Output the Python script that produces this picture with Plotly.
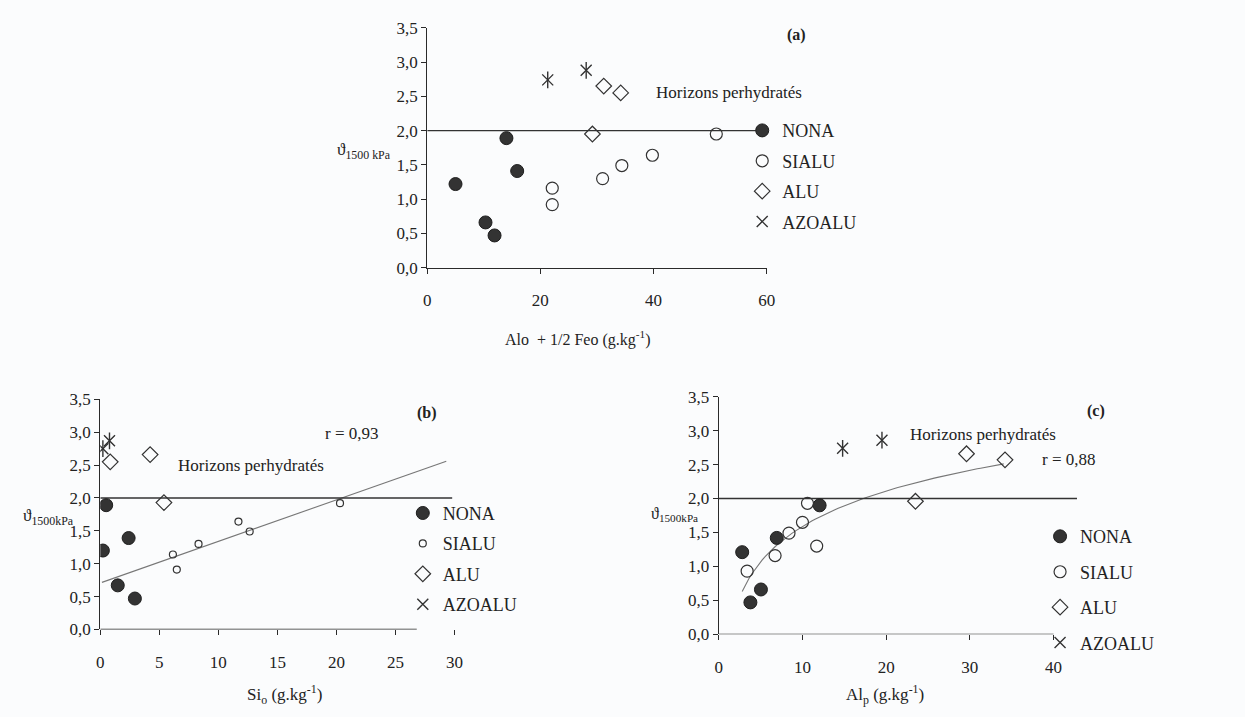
import numpy as np
import plotly.graph_objects as go

W, H = 1245, 717
FONT = "Liberation Serif, Times New Roman, serif"
INK = "#2a2a2a"

# ---------------- data ----------------
# panel (a): Alo + 1/2 Feo
a_nona_x = [5.0, 10.3, 11.9, 14.0, 15.9]
a_nona_y = [1.22, 0.66, 0.47, 1.89, 1.41]
a_sialu_x = [22.1, 22.1, 31.0, 34.4, 39.8, 51.1]
a_sialu_y = [1.16, 0.92, 1.30, 1.49, 1.64, 1.95]
a_alu_x = [29.2, 31.2, 34.2]
a_alu_y = [1.95, 2.65, 2.55]
a_azo_x = [21.3, 28.1]
a_azo_y = [2.74, 2.88]
a_limit_x = [0, 58.1]

# panel (b): Si_o
b_nona_x = [0.22, 0.5, 1.48, 2.4, 2.93]
b_nona_y = [1.20, 1.89, 0.67, 1.39, 0.47]
b_sialu_x = [6.15, 6.48, 8.32, 11.7, 12.65, 20.3]
b_sialu_y = [1.14, 0.91, 1.30, 1.64, 1.49, 1.92]
b_alu_x = [0.84, 4.22, 5.39]
b_alu_y = [2.55, 2.66, 1.93]
b_azo_x = [0.22, 0.78]
b_azo_y = [2.75, 2.87]
b_limit_x = [0, 29.8]
b_fit_x = [0.14, 29.3]
b_fit_slope, b_fit_intercept = 0.0632, 0.707

# panel (c): Al_p
c_nona_x = [2.8, 3.78, 5.04, 6.93, 12.05]
c_nona_y = [1.21, 0.47, 0.66, 1.42, 1.90]
c_sialu_x = [3.39, 6.73, 8.39, 10.0, 10.6, 11.7]
c_sialu_y = [0.93, 1.16, 1.49, 1.65, 1.93, 1.30]
c_alu_x = [23.5, 29.6, 34.2]
c_alu_y = [1.96, 2.66, 2.57]
c_azo_x = [14.8, 19.5]
c_azo_y = [2.74, 2.86]
c_limit_x = [0, 42.8]
c_fit_range = [2.8, 34.05]
c_fit_a, c_fit_b = -0.145, 0.753

y_ticks = [0, 0.5, 1.0, 1.5, 2.0, 2.5, 3.0, 3.5]
y_ticklabels = ["0,0", "0,5", "1,0", "1,5", "2,0", "2,5", "3,0", "3,5"]
labels = ["NONA", "SIALU", "ALU", "AZOALU"]

fig = go.Figure()


def hidden_line(xa, ya, leg, xs, ys, color, width):
    fig.add_trace(go.Scatter(x=xs, y=ys, mode="lines", showlegend=False,
                             xaxis=xa, yaxis=ya, hoverinfo="skip",
                             legend=leg, legendgroup=leg + "z",
                             line=dict(color=color, width=width)))


def add_panel(xa, ya, leg, nona, sialu, alu, azo, sialu_size, circ_size):
    fig.add_trace(go.Scatter(x=nona[0], y=nona[1], mode="markers", name=labels[0],
                             xaxis=xa, yaxis=ya, legend=leg, legendgroup=leg + "n",
                             marker=dict(symbol="circle", size=circ_size, color="#333333",
                                         line=dict(color="#1e1e1e", width=1))))
    fig.add_trace(go.Scatter(x=sialu[0], y=sialu[1], mode="markers", name=labels[1],
                             xaxis=xa, yaxis=ya, legend=leg, legendgroup=leg + "s",
                             marker=dict(symbol="circle-open", size=sialu_size, color="#333333",
                                         line=dict(color="#333333", width=1.2))))
    fig.add_trace(go.Scatter(x=alu[0], y=alu[1], mode="markers", name=labels[2],
                             xaxis=xa, yaxis=ya, legend=leg, legendgroup=leg + "a",
                             marker=dict(symbol="diamond-open", size=12, color="#333333",
                                         line=dict(color="#333333", width=1.2))))
    fig.add_trace(go.Scatter(x=azo[0], y=azo[1], mode="markers", name=labels[3],
                             xaxis=xa, yaxis=ya, legend=leg, legendgroup=leg + "z",
                             marker=dict(symbol="x-thin-open", size=11, color="#333333",
                                         line=dict(color="#333333", width=1.4))))
    fig.add_trace(go.Scatter(x=azo[0], y=azo[1], mode="markers", showlegend=False,
                             xaxis=xa, yaxis=ya, hoverinfo="skip",
                             legend=leg, legendgroup=leg + "z",
                             marker=dict(symbol="line-ns-open", size=12, color="#333333",
                                         line=dict(color="#333333", width=1.4))))


# fits first (drawn beneath markers)
bx = np.array(b_fit_x)
hidden_line("x2", "y2", "legend2", bx, b_fit_intercept + b_fit_slope * bx, "#777777", 1.1)
cx = np.linspace(c_fit_range[0], c_fit_range[1], 80)
hidden_line("x3", "y3", "legend3", cx, c_fit_a + c_fit_b * np.log(cx), "#777777", 1.1)

hidden_line("x", "y", "legend", a_limit_x, [2.0, 2.0], "#333333", 1.4)
hidden_line("x2", "y2", "legend2", b_limit_x, [2.0, 2.0], "#333333", 1.4)
hidden_line("x3", "y3", "legend3", c_limit_x, [2.0, 2.0], "#333333", 1.4)

add_panel("x", "y", "legend", (a_nona_x, a_nona_y), (a_sialu_x, a_sialu_y),
          (a_alu_x, a_alu_y), (a_azo_x, a_azo_y), 12, 13)
add_panel("x2", "y2", "legend2", (b_nona_x, b_nona_y), (b_sialu_x, b_sialu_y),
          (b_alu_x, b_alu_y), (b_azo_x, b_azo_y), 7, 13)
add_panel("x3", "y3", "legend3", (c_nona_x, c_nona_y), (c_sialu_x, c_sialu_y),
          (c_alu_x, c_alu_y), (c_azo_x, c_azo_y), 12, 13)


def px_x(p):
    return p / W


def px_y(p):
    return 1 - p / H


axis_common = dict(showgrid=False, zeroline=False, ticks="outside", ticklen=5,
                   tickcolor=INK, linecolor=INK, linewidth=1.2,
                   tickfont=dict(family=FONT, size=17, color="#222222"))

yaxis_common = dict(axis_common, range=[0, 3.5], tickvals=y_ticks, ticktext=y_ticklabels,
                    showline=True)

fig.update_layout(
    width=W, height=H, margin=dict(l=0, r=0, t=0, b=0),
    paper_bgcolor="#fbfcfd", plot_bgcolor="rgba(0,0,0,0)",
    font=dict(family=FONT, size=17, color="#222222"),
    xaxis=dict(axis_common, domain=[px_x(427.7), px_x(770.7)], range=[0, 60],
               tickvals=[0, 20, 40, 60], showline=True, anchor="y", ticklabelstandoff=12),
    yaxis=dict(yaxis_common, domain=[px_y(265.7), px_y(19.3)], anchor="x"),
    xaxis2=dict(axis_common, domain=[px_x(97.3), px_x(455.3)], range=[0, 30],
                tickvals=[0, 5, 10, 15, 20, 25, 30], showline=False, anchor="y2",
                ticklabelstandoff=12),
    yaxis2=dict(yaxis_common, domain=[px_y(637.3), px_y(401)], anchor="x2"),
    xaxis3=dict(axis_common, domain=[px_x(722.3), px_x(1086.0)], range=[0, 43],
                tickvals=[0, 10, 20, 30, 40], showline=False, anchor="y3",
                ticklabelstandoff=12),
    yaxis3=dict(yaxis_common, domain=[px_y(642.3), px_y(398.3)], anchor="x3"),
    showlegend=True,
)

leg_common = dict(font=dict(family=FONT, size=18, color="#222222"), bgcolor="rgba(0,0,0,0)",
                  xanchor="left", yanchor="top", itemwidth=30, borderwidth=0,
                  traceorder="grouped")
fig.update_layout(
    legend=dict(leg_common, x=px_x(746), y=px_y(106), tracegroupgap=4),
    legend2=dict(leg_common, x=px_x(403), y=px_y(499), tracegroupgap=4),
    legend3=dict(leg_common, x=px_x(1047), y=px_y(523), tracegroupgap=9),
)

# axis lines drawn as shapes where the axis line is shorter than the range
fig.add_shape(type="line", xref="x2", yref="y2", x0=0, x1=26.8, y0=0, y1=0,
              line=dict(color=INK, width=1.2))
fig.add_shape(type="line", xref="x3", yref="y3", x0=0, x1=40, y0=0, y1=0,
              line=dict(color=INK, width=1.2))

ann = []


def txt(xref, yref, x, y, text, size=17, bold=False, **kw):
    t = "<b>%s</b>" % text if bold else text
    ann.append(dict(xref=xref, yref=yref, x=x, y=y, text=t, showarrow=False,
                    font=dict(family=FONT, size=size, color="#222222"), **kw))


ytitle = "ϑ<sub>1500 kPa</sub>"
ytitle2 = "ϑ<sub>1500kPa</sub>"
# panel (a)
txt("x domain", "y domain", 1.123, 1.017, "(a)", 16, True)
txt("x", "y", 53.4, 2.55, "Horizons perhydratés", 17)
txt("x domain", "y", -0.101, 1.70, ytitle, 17, xanchor="right")
txt("x domain", "y domain", 0.444, 0, "Alo  + 1/2 Feo (g.kg<sup>-1</sup>)", 16,
    yanchor="middle", yshift=-71)
# panel (b)
txt("x2 domain", "y2 domain", 0.955, 0.99, "(b)", 16, True)
txt("x2", "y2", 21.35, 2.98, "r = 0,93", 17)
txt("x2", "y2", 12.8, 2.49, "Horizons perhydratés", 17)
txt("x2 domain", "y2", -0.068, 1.71, ytitle2, 17, xanchor="right")
txt("x2 domain", "y2 domain", 0.519, 0, "Si<sub>o</sub> (g.kg<sup>-1</sup>)", 17,
    yanchor="middle", yshift=-65)
# panel (c)
txt("x3 domain", "y3 domain", 1.080, 0.985, "(c)", 16, True)
txt("x3", "y3", 31.6, 2.95, "Horizons perhydratés", 17)
txt("x3", "y3", 41.9, 2.57, "r = 0,88", 17)
txt("x3 domain", "y3", -0.052, 1.76, ytitle2, 16, xanchor="right")
txt("x3 domain", "y3 domain", 0.461, 0, "Al<sub>p</sub> (g.kg<sup>-1</sup>)", 17,
    yanchor="middle", yshift=-60)

fig.update_layout(annotations=ann)

fig.write_html("out.html",
               config={"displayModeBar": False},
               post_script="document.body.style.margin='0';"
                           "document.body.style.overflow='hidden';"
                           "document.documentElement.style.overflow='hidden';")
